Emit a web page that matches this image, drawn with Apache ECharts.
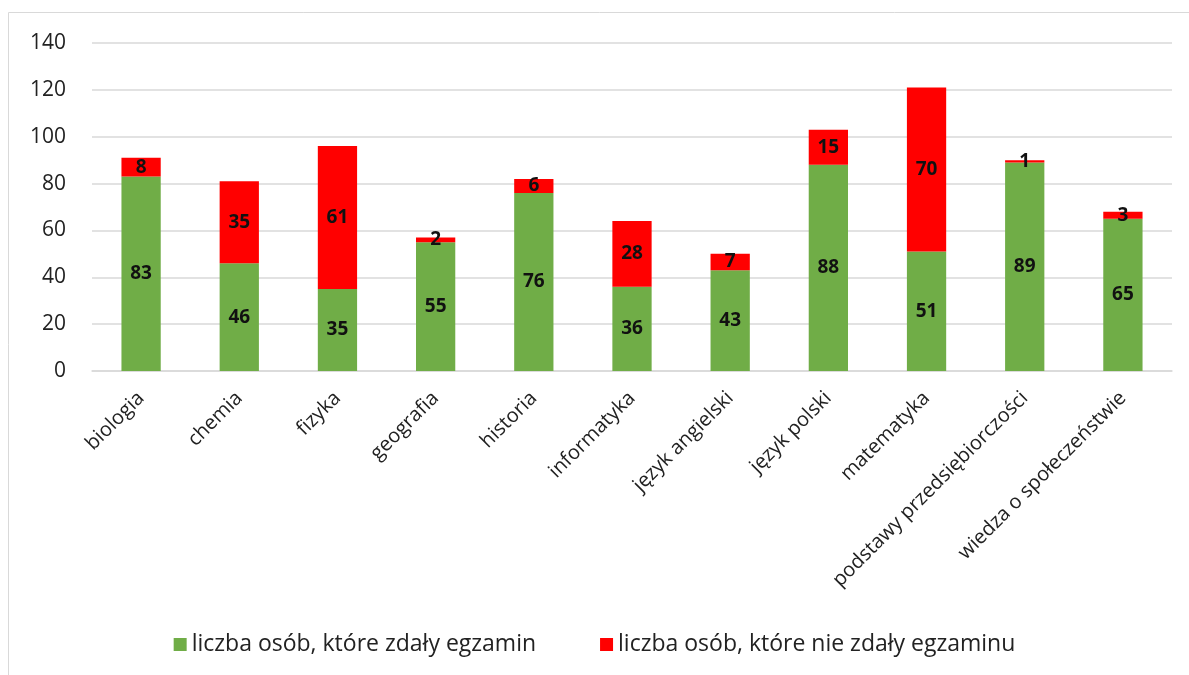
<!DOCTYPE html>
<html>
<head>
<meta charset="utf-8">
<script src="https://cdn.jsdelivr.net/npm/echarts@6/dist/echarts.min.js"></script>
<style>
html,body{margin:0;padding:0;background:#fff;}
#chart{width:1189px;height:675px;}
</style>
</head>
<body>
<div id="chart"></div>
<script>
const categories = ['biologia','chemia','fizyka','geografia','historia','informatyka','język angielski','język polski','matematyka','podstawy przedsiębiorczości','wiedza o społeczeństwie'];
const passed = [83,46,35,55,76,36,43,88,51,89,65];
const failed = [8,35,61,2,6,28,7,15,70,1,3];
const seriesNames = ['liczba osób, które zdały egzamin','liczba osób, które nie zdały egzaminu'];
const yTicks = {min:0, max:140, interval:20};

const FONT = '"Open Sans", sans-serif';
const chart = echarts.init(document.getElementById('chart'));
chart.setOption({
  animation:false,
  textStyle:{fontFamily:FONT},
  graphic:[{type:'rect',shape:{x:8.5,y:12.5,width:1300,height:800},style:{fill:'none',stroke:'#d9d9d9',lineWidth:1}}],
  grid:{left:92,right:17,top:43,bottom:304,containLabel:false},
  legend:{
    bottom:14,left:'center',itemWidth:13,itemHeight:13,itemGap:64,
    icon:'rect',
    textStyle:{fontFamily:FONT,fontSize:23,color:'#222'},
    data:seriesNames
  },
  xAxis:{
    type:'category',data:categories,
    axisLine:{lineStyle:{color:'#d9d9d9',width:1.5}},
    axisTick:{show:false},
    axisLabel:{rotate:45,fontSize:20,color:'#222',fontFamily:FONT,interval:0,margin:24}
  },
  yAxis:{
    type:'value',min:yTicks.min,max:yTicks.max,interval:yTicks.interval,
    axisLine:{show:false},axisTick:{show:false},
    splitLine:{lineStyle:{color:'#d9d9d9',width:1.5}},
    axisLabel:{fontSize:21,color:'#222',fontFamily:FONT,margin:26}
  },
  series:[
    {name:seriesNames[0],type:'bar',stack:'a',data:passed,barWidth:'40%',
     itemStyle:{color:'#70AD47'},
     label:{show:true,position:'inside',fontWeight:'bold',fontSize:19,color:'#111',fontFamily:FONT}},
    {name:seriesNames[1],type:'bar',stack:'a',data:failed,barWidth:'40%',
     itemStyle:{color:'#FF0000'},
     label:{show:true,position:'inside',fontWeight:'bold',fontSize:19,color:'#111',fontFamily:FONT}}
  ]
});
</script>
</body>
</html>
